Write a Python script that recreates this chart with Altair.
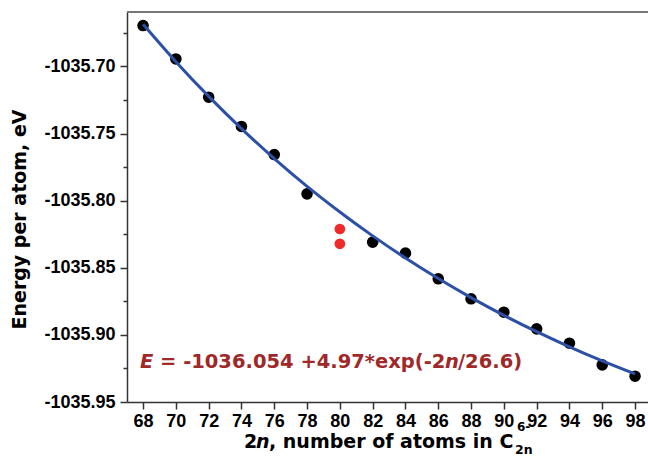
import altair as alt
import pandas as pd

# ---- data ----
black_x = [68, 70, 72, 74, 76, 78, 82, 84, 86, 88, 90, 92, 94, 96, 98]
black_e = [-1035.6695, -1035.6944, -1035.7229, -1035.7447, -1035.7656, -1035.7949,
           -1035.8309, -1035.8391, -1035.8582, -1035.8731, -1035.8831, -1035.8955,
           -1035.9062, -1035.9223, -1035.9308]
red_x = [80, 80]
red_e = [-1035.8211, -1035.8321]
fit_x = [68, 70, 72, 74, 76, 78, 80, 82, 84, 86, 88, 90, 92, 94, 96, 98]
fit_e = [-1035.6685, -1035.6964, -1035.7223, -1035.7463, -1035.7686, -1035.7893,
         -1035.8084, -1035.8262, -1035.8427, -1035.8580, -1035.8722, -1035.8854,
         -1035.8976, -1035.9089, -1035.9194, -1035.9291]
x_ticks = list(range(68, 99, 2))
y_ticks = [-1035.70, -1035.75, -1035.80, -1035.85, -1035.90, -1035.95]
y_minor = [-1035.675, -1035.725, -1035.775, -1035.825, -1035.875, -1035.925]

black_df = pd.DataFrame({"x": black_x, "e": black_e})
red_df = pd.DataFrame({"x": red_x, "e": red_e})
fit_df = pd.DataFrame({"x": fit_x, "e": fit_e})
one = pd.DataFrame({"a": [0]})

W, H = 521, 390
TICK_FONT = "Liberation Sans"
TITLE_FONT = "DejaVu Sans"
AX = "#333333"

xscale = alt.Scale(domain=[67.02, 98.79], nice=False, zero=False)
yscale = alt.Scale(domain=[-1035.95, -1035.6594], nice=False, zero=False)

x_axis = alt.Axis(values=x_ticks, format="d", title=None, grid=False,
                  labelFont=TICK_FONT, labelFontSize=18, labelFontWeight="bold",
                  labelColor="black", tickSize=7, tickColor=AX, tickWidth=1.5,
                  domainColor=AX, domainWidth=1.5, labelPadding=3, labelFlush=False)
y_axis = alt.Axis(values=y_ticks, title=None, grid=False, orient="left",
                  labelExpr="'-' + format(abs(datum.value), '.2f')",
                  labelFont=TICK_FONT, labelFontSize=18, labelFontWeight="bold",
                  labelColor="black", tickSize=7, tickColor=AX, tickWidth=1.5,
                  domainColor=AX, domainWidth=1.5, labelPadding=5)
y_axis_minor = alt.Axis(values=y_minor, title=None, grid=False, orient="left",
                        labels=False, domain=False, tickSize=4, tickColor=AX,
                        tickWidth=1.5)

xenc = alt.X("x:Q", scale=xscale, axis=x_axis)

black = alt.Chart(black_df).mark_circle(size=135, color="black", opacity=1).encode(
    x=xenc, y=alt.Y("e:Q", scale=yscale, axis=y_axis))
red = alt.Chart(red_df).mark_circle(size=115, color="#EE2A2A", opacity=1).encode(
    x=xenc, y=alt.Y("e:Q", scale=yscale, axis=None))
fit = alt.Chart(fit_df).mark_line(color="#2B50A6", strokeWidth=3,
                                  interpolate="monotone").encode(
    x=xenc, y=alt.Y("e:Q", scale=yscale, axis=y_axis_minor))

top_rule = alt.Chart(one).mark_rule(color="#777777", strokeWidth=2).encode(
    x=alt.value(0), x2=alt.value(W), y=alt.value(0))


def txt(s, x, y, size, color="black", italic=False, angle=0, align="left", font=TITLE_FONT):
    kw = dict(text=s, font=font, fontSize=size, fontWeight="bold", color=color,
              align=align, baseline="alphabetic", angle=angle)
    if italic:
        kw["fontStyle"] = "italic"
    return alt.Chart(one).mark_text(**kw).encode(x=alt.value(x), y=alt.value(y))


EQ = "#A02828"
texts = [
    # y title
    txt("Energy per atom, eV", -101, 207.5, 19, angle=270, align="center"),
    # x title
    txt("2", 117, 436, 19),
    txt("n", 129, 436, 19, italic=True),
    txt(", number of atoms in C", 142, 436, 19),
    txt("2n", 388, 442, 12.5),
    txt("6-", 390, 419, 12),
    # equation
    txt("E", 13, 356, 19.5, color=EQ, italic=True),
    txt("= -1036.054 +4.97*exp(-2", 33, 356, 19.5, color=EQ),
    txt("n", 318, 356, 19.5, color=EQ, italic=True),
    txt("/26.6)", 331, 356, 19.5, color=EQ),
]

chart = alt.layer(black, red, fit, top_rule, *texts).resolve_axis(
    y="independent").resolve_scale(y="shared").properties(
    width=W, height=H,
    autosize=alt.AutoSizeParams(type="none"),
    padding={"left": 127, "top": 12, "right": 0, "bottom": 56},
    background="white",
).configure_view(stroke=None)

chart.save("out.html", embed_options={"renderer": "svg", "actions": False})
